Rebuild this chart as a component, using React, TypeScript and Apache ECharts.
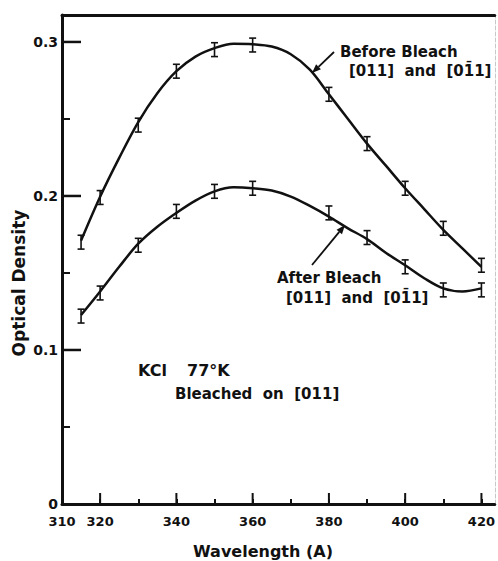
import React, { useEffect, useRef } from "react";
import * as echarts from "echarts";

// measured points (with error bars)
const wavelengths = [315, 320, 330, 340, 350, 360, 380, 390, 400, 410, 420];
const beforeBleach = [0.170, 0.199, 0.246, 0.281, 0.295, 0.298, 0.266, 0.234, 0.205, 0.179, 0.155];
const afterBleach = [0.122, 0.137, 0.168, 0.190, 0.203, 0.205, 0.189, 0.173, 0.154, 0.139, 0.139];
const errBefore = [0.0045, 0.0045, 0.0045, 0.0045, 0.0045, 0.0045, 0.0045, 0.0045, 0.0045, 0.0045, 0.0045];
const errAfter = [0.0045, 0.0045, 0.0045, 0.0045, 0.0045, 0.0045, 0.0045, 0.0045, 0.0045, 0.0045, 0.0045];

// drawn fit curves
const curveX = [315, 320, 325, 330, 335, 340, 345, 350, 355, 360, 365, 370, 375, 380, 385, 390, 395, 400, 405, 410, 415, 420];
const curveBefore = [0.171, 0.1995, 0.2247, 0.248, 0.2667, 0.281, 0.2905, 0.296, 0.2988, 0.2985, 0.297, 0.292, 0.282, 0.266, 0.250, 0.234, 0.2195, 0.205, 0.1915, 0.178, 0.166, 0.154];
const curveAfter = [0.1227, 0.138, 0.154, 0.169, 0.180, 0.189, 0.197, 0.203, 0.2056, 0.205, 0.2035, 0.1996, 0.1935, 0.1866, 0.179, 0.172, 0.163, 0.155, 0.1466, 0.140, 0.138, 0.140];

const majorXTicks = [320, 340, 360, 380, 400, 420];
const majorYTicks = [0.1, 0.2, 0.3];
const X_MIN = 310;
const X_MAX = 423.5;
const Y_MIN = 0;
const Y_MAX = 0.3175;

const INK = "#111";
const FONT = "DejaVu Sans";

export default function App() {
  const ref = useRef<HTMLDivElement>(null);
  useEffect(() => {
    if (!ref.current) return;
    const chart = echarts.init(ref.current, undefined, { renderer: "svg" });

    const errData = (ys: number[], es: number[]) =>
      wavelengths.map((x, i) => [x, ys[i], es[i]]);

    const errRender = (params: any, api: any) => {
      const x = api.value(0);
      const y = api.value(1);
      const e = api.value(2);
      const top = api.coord([x, y + e]);
      const bot = api.coord([x, y - e]);
      const cw = 3.5;
      const st = { stroke: INK, lineWidth: 1.6 };
      return {
        type: "group",
        children: [
          { type: "line", shape: { x1: top[0], y1: top[1], x2: bot[0], y2: bot[1] }, style: st },
          { type: "line", shape: { x1: top[0] - cw, y1: top[1], x2: top[0] + cw, y2: top[1] }, style: st },
          { type: "line", shape: { x1: bot[0] - cw, y1: bot[1], x2: bot[0] + cw, y2: bot[1] }, style: st },
        ],
      };
    };

    const textStyle = (t: string, x: number, y: number, size = 15) => ({
      type: "text",
      x,
      y,
      style: { text: t, fill: INK, font: `bold ${size}px "${FONT}"`, align: "left", verticalAlign: "middle" },
    });

    const arrow = (x1: number, y1: number, x2: number, y2: number) => {
      const dx = x2 - x1;
      const dy = y2 - y1;
      const len = Math.sqrt(dx * dx + dy * dy);
      const ux = dx / len;
      const uy = dy / len;
      const hl = 9;
      const hw = 3.5;
      const bx = x2 - hl * ux;
      const by = y2 - hl * uy;
      const px = -uy;
      const py = ux;
      return [
        { type: "line", shape: { x1, y1, x2: bx, y2: by }, style: { stroke: INK, lineWidth: 1.8 } },
        {
          type: "polygon",
          shape: { points: [[x2, y2], [bx + hw * px, by + hw * py], [bx - hw * px, by - hw * py]] },
          style: { fill: INK },
        },
      ];
    };

    chart.setOption({
      animation: false,
      backgroundColor: "#fff",
      grid: { left: 62, right: 1, top: 15, bottom: 57 },
      xAxis: [
        {
          type: "value",
          min: X_MIN,
          max: X_MAX,
          interval: 10,
          axisLine: { show: true, onZero: false, lineStyle: { color: INK, width: 3 } },
          axisTick: { show: true, inside: true, length: 5, lineStyle: { color: INK, width: 2 } },
          axisLabel: {
            margin: 11,
            color: INK,
            fontFamily: FONT,
            fontWeight: "bold",
            fontSize: 13,
            showMaxLabel: false,
            formatter: (v: number) => {
              const r = Math.round(v);
              if (Math.abs(v - r) > 1e-6) return "";
              if (r === 310 || (r - 320) % 20 === 0) return String(r);
              return "";
            },
          },
          splitLine: { show: false },
        },
        {
          type: "value",
          position: "top",
          min: X_MIN,
          max: X_MAX,
          axisLine: { show: true, onZero: false, lineStyle: { color: INK, width: 3 } },
          axisTick: { show: false },
          axisLabel: { show: false },
          splitLine: { show: false },
        },
      ],
      yAxis: [
        {
          type: "value",
          min: Y_MIN,
          max: Y_MAX,
          interval: 0.05,
          axisLine: { show: true, onZero: false, lineStyle: { color: INK, width: 3 } },
          axisTick: { show: true, inside: true, length: 8, lineStyle: { color: INK, width: 2 } },
          axisLabel: {
            margin: 4,
            color: INK,
            fontFamily: FONT,
            fontWeight: "bold",
            fontSize: 14,
            showMaxLabel: false,
            formatter: (v: number) => {
              const t = Math.round(v * 10);
              if (Math.abs(v * 10 - t) > 1e-6) return "";
              return t === 0 ? "0" : (t / 10).toFixed(1);
            },
          },
          splitLine: { show: false },
        },
        {
          type: "value",
          position: "right",
          min: Y_MIN,
          max: Y_MAX,
          axisLine: { show: true, onZero: false, lineStyle: { color: "#c8c8c8", width: 1, type: "dashed" } },
          axisTick: { show: false },
          axisLabel: { show: false },
          splitLine: { show: false },
        },
      ],
      series: [
        {
          type: "line",
          name: "Before Bleach",
          data: curveX.map((x, i) => [x, curveBefore[i]]),
          smooth: 0.35,
          symbol: "none",
          lineStyle: { color: INK, width: 2.5 },
        },
        {
          type: "line",
          name: "After Bleach",
          data: curveX.map((x, i) => [x, curveAfter[i]]),
          smooth: 0.35,
          symbol: "none",
          lineStyle: { color: INK, width: 2.5 },
        },
        { type: "custom", data: errData(beforeBleach, errBefore), renderItem: errRender, clip: false },
        { type: "custom", data: errData(afterBleach, errAfter), renderItem: errRender, clip: false },
        {
          type: "custom",
          data: majorXTicks.map((v) => [v, Y_MIN]),
          clip: false,
          renderItem: (params: any, api: any) => {
            const p = api.coord([api.value(0), Y_MIN]);
            return { type: "line", shape: { x1: p[0], y1: p[1], x2: p[0], y2: p[1] - 11 }, style: { stroke: INK, lineWidth: 2 } };
          },
        },
        {
          type: "custom",
          data: majorYTicks.map((v) => [X_MIN, v]),
          clip: false,
          renderItem: (params: any, api: any) => {
            const p = api.coord([X_MIN, api.value(1)]);
            return { type: "line", shape: { x1: p[0], y1: p[1], x2: p[0] + 19, y2: p[1] }, style: { stroke: INK, lineWidth: 2.5 } };
          },
        },
      ],
      graphic: [
        textStyle("Before Bleach", 340, 52),
        textStyle("[011]  and  [01\u03041]", 349, 71),
        textStyle("After Bleach", 277, 278),
        textStyle("[011]  and  [01\u03041]", 286, 298),
        textStyle("KCl", 138, 370, 16),
        textStyle("77°K", 187, 370, 16),
        textStyle("Bleached  on  [011]", 175, 394, 15),
        ...arrow(334, 52, 312, 73),
        ...arrow(312, 265, 345, 225),
        {
          type: "text",
          x: 19,
          y: 283,
          rotation: Math.PI / 2,
          style: { text: "Optical Density", fill: INK, font: `bold 17px "${FONT}"`, align: "center", verticalAlign: "middle" },
        },
        {
          type: "text",
          x: 263,
          y: 551,
          style: { text: "Wavelength (A)", fill: INK, font: `bold 16px "${FONT}"`, align: "center", verticalAlign: "middle" },
        },
      ],
    });
    return () => chart.dispose();
  }, []);
  return <div ref={ref} style={{ position: "fixed", left: 0, top: 0, width: 498, height: 561 }} />;
}
